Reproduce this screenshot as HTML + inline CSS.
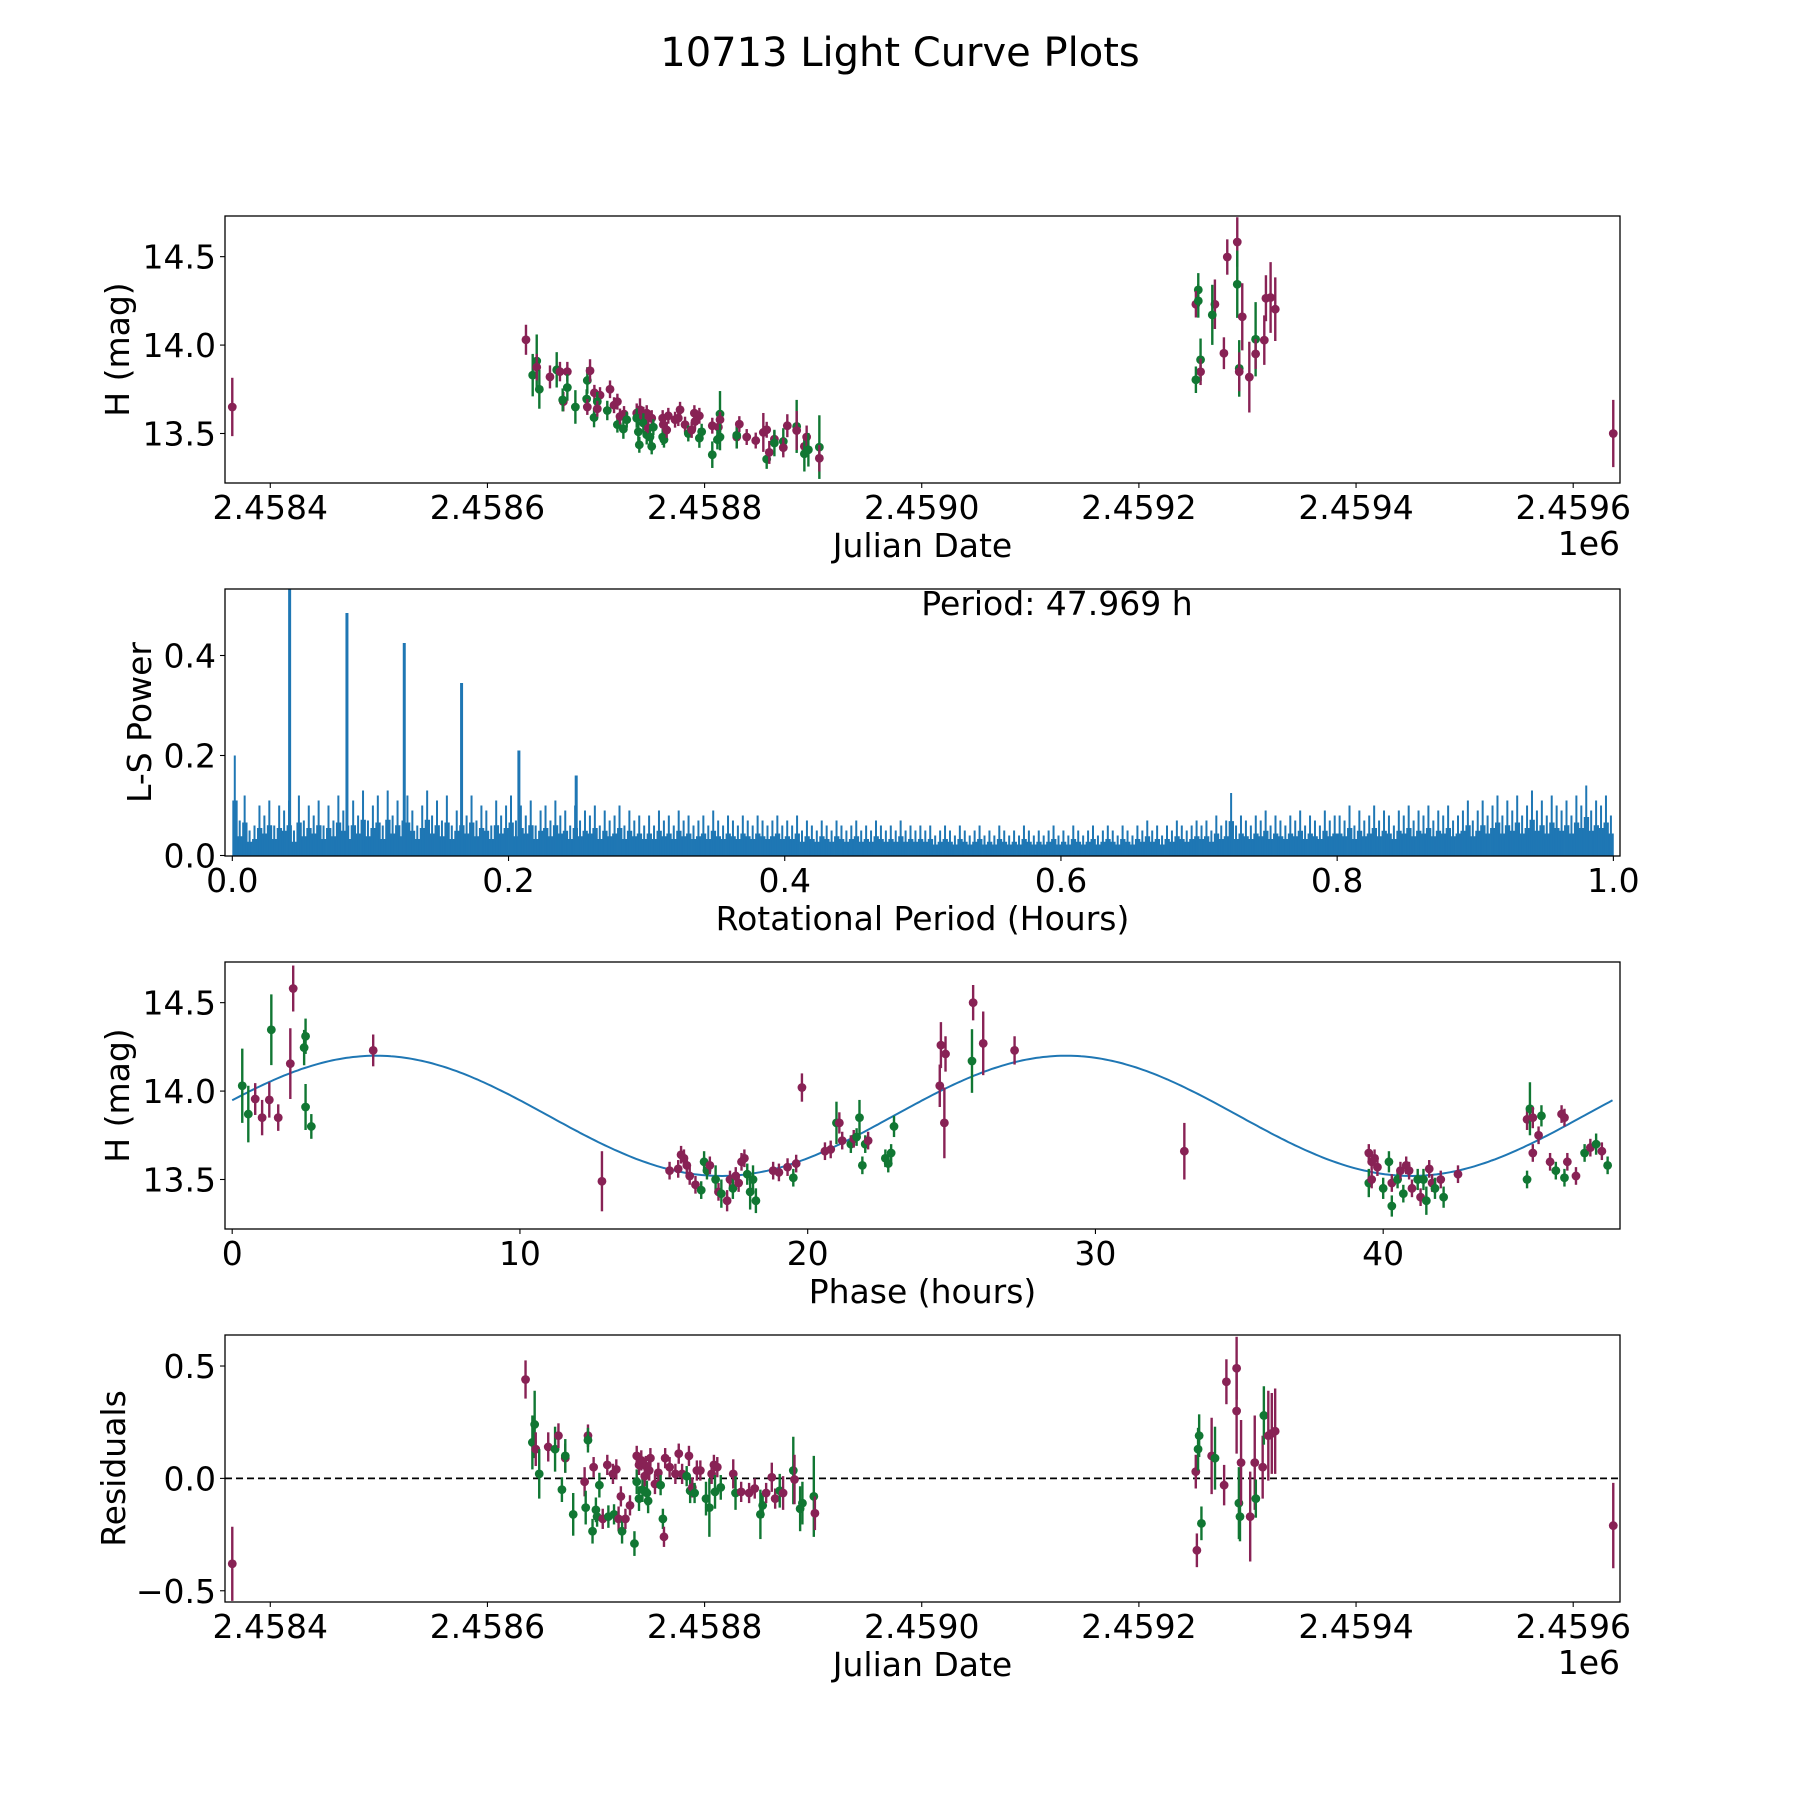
<!DOCTYPE html>
<html><head><meta charset="utf-8">
<style>
html,body{margin:0;padding:0;background:#fff;}
svg{display:block;font-family:"DejaVu Sans","Liberation Sans",sans-serif;}
</style></head>
<body>
<svg id="fig" width="1800" height="1800" viewBox="0 0 1800 1800" xmlns="http://www.w3.org/2000/svg">
<rect width="1800" height="1800" fill="#fff"/>
<text x="900" y="66" font-size="40" text-anchor="middle">10713 Light Curve Plots</text>
</svg>
<script>
// ---------- Panel 1: Light curve (JD - 2458000, H mag) ----------
const jd1 = [365.0,635.5,641.7,645.4,645.4,647.8,657.6,663.8,666.8,673.6,673.6,669.9,669.3,681.0,692.0,694.5,691.4,692.0,698.2,698.5,703.7,701.2,701.2,710.4,712.9,716.6,719.7,719.7,722.1,725.2,725.8,728.3,737.5,740.5,737.5,739.0,739.9,743.6,746.7,743.6,746.7,748.2,751.3,749.7,751.3,752.8,761.4,762.0,761.4,762.6,765.1,766.6,772.8,777.4,775.8,782.0,785.0,788.1,790.6,795.2,795.2,797.3,791.2,807.1,807.1,814.2,814.2,812.7,814.2,811.8,829.6,829.6,832.0,838.8,847.1,854.1,857.2,857.2,859.6,864.3,864.3,872.5,872.5,876.2,884.8,884.8,891.9,891.9,894.0,895.6,905.7,905.7,
1254.7,1252.5,1254.7,1256.8,1256.8,1252.5,1270.0,1267.6,1281.4,1278.3,1290.6,1290.6,1295.2,1292.4,1292.4,1301.7,1307.5,1307.5,1315.5,1317.0,1321.3,1325.6,1636.9];
const mag1 = [13.65,14.03,13.83,13.91,13.875,13.75,13.82,13.86,13.85,13.85,13.76,13.68,13.69,13.65,13.80,13.855,13.695,13.65,13.59,13.73,13.717,13.68,13.64,13.63,13.75,13.66,13.68,13.55,13.596,13.525,13.61,13.578,13.615,13.634,13.587,13.51,13.436,13.596,13.615,13.559,13.493,13.53,13.587,13.48,13.427,13.536,13.587,13.55,13.48,13.465,13.52,13.60,13.578,13.634,13.587,13.55,13.50,13.52,13.615,13.60,13.474,13.51,13.568,13.38,13.544,13.61,13.578,13.536,13.48,13.465,13.48,13.49,13.553,13.48,13.46,13.506,13.521,13.355,13.393,13.468,13.446,13.455,13.42,13.544,13.54,13.517,13.427,13.385,13.48,13.408,13.423,13.36,
14.312,14.231,14.25,13.917,13.849,13.804,14.231,14.171,14.498,13.954,14.583,14.344,14.16,13.868,13.849,13.819,14.033,13.95,14.028,14.265,14.269,14.203,13.50];
const err1 = [0.165,0.085,0.12,0.15,0.075,0.11,0.065,0.10,0.055,0.055,0.075,0.055,0.065,0.095,0.075,0.065,0.055,0.045,0.055,0.045,0.045,0.055,0.045,0.055,0.05,0.045,0.045,0.045,0.045,0.055,0.045,0.045,0.055,0.065,0.055,0.055,0.045,0.055,0.045,0.055,0.055,0.045,0.045,0.045,0.045,0.045,0.045,0.045,0.045,0.045,0.045,0.045,0.045,0.045,0.045,0.045,0.045,0.045,0.045,0.045,0.055,0.045,0.045,0.075,0.045,0.13,0.045,0.045,0.075,0.055,0.065,0.075,0.045,0.045,0.045,0.11,0.045,0.055,0.065,0.045,0.075,0.075,0.055,0.065,0.15,0.11,0.055,0.10,0.065,0.095,0.18,0.075,
0.095,0.075,0.095,0.12,0.075,0.075,0.14,0.17,0.10,0.09,0.14,0.19,0.19,0.16,0.11,0.20,0.21,0.085,0.14,0.13,0.20,0.18,0.19];
const col1 = "m" + "mggmgmgmmg" + "mgggmgmgmm" + "gmgmmmgmgm" + "gmmgggmmgg" + "mmgggmmggm" + "mmmmmgmmmg" + "gmgmgmmggm" + "gmmmmmgmmg" + "gmmgmmgmgg" + "m" +
  "gmggmgmgmmmgmgmmgmmmmm" + "m";

// ---------- Panel 2: Lomb-Scargle periodogram ----------
const lsPowers = [.20,.07,.12,.05,.06,.10,.08,.11,.06,.10,.09,.11,.05,.12,.07,.10,.08,.11,.06,.10,.07,.12,.09,.06,.11,.08,.13,.07,
.10,.12,.06,.13,.08,.11,.07,.12,.09,.06,.10,.13,.08,.11,.07,.12,.06,.09,.11,.08,.12,.07,.10,.09,.06,.11,.08,.10,
.12,.07,.10,.08,.11,.06,.09,.10,.07,.11,.08,.09,.06,.10,.07,.09,.08,.10,.06,.09,.07,.08,.10,.06,.09,.07,.08,.06,
.08,.06,.09,.07,.08,.06,.09,.07,.08,.06,.07,.08,.06,.09,.07,.06,.08,.07,.06,.08,.07,.06,.08,.07,.06,.07,.08,.06,
.07,.06,.08,.05,.07,.06,.05,.07,.06,.05,.07,.06,.05,.06,.07,.05,.06,.05,.07,.06,.05,.06,.05,.07,.05,.06,.05,.06,
.05,.06,.04,.05,.06,.05,.04,.06,.05,.04,.05,.06,.04,.05,.04,.06,.05,.04,.05,.04,.06,.05,.04,.05,.04,.05,.06,.04,
.05,.04,.06,.05,.04,.05,.06,.04,.05,.06,.05,.04,.06,.05,.04,.06,.05,.07,.05,.06,.04,.06,.05,.07,.06,.05,.06,.07,
.06,.07,.05,.08,.06,.07,.125,.06,.08,.07,.06,.08,.07,.09,.06,.08,.07,.06,.08,.07,.09,.06,.08,.07,.06,.09,.07,.08,
.08,.07,.10,.06,.09,.07,.08,.10,.07,.09,.08,.06,.09,.08,.10,.07,.09,.08,.10,.07,.09,.08,.10,.07,.08,.09,.11,.07,
.09,.11,.08,.10,.12,.08,.11,.09,.12,.08,.10,.13,.09,.11,.08,.12,.10,.09,.11,.08,.12,.10,.14,.09,.11,.10,.12,.08];
const peakPeriods = [0.0415,0.083,0.1245,0.166,0.2075,0.249];
const peakPowers = [0.56,0.485,0.425,0.345,0.21,0.16];
const periodLabel = "Period: 47.969 h";

// ---------- Panel 3: Phase-folded curve ----------
const phase3 = [0.35,0.56,0.8,1.04,1.29,1.36,1.6,2.02,2.12,2.5,2.55,2.55,2.75,4.9,12.85,
15.2,15.5,15.6,15.7,15.8,15.9,16.1,16.3,16.4,16.5,16.6,16.8,16.9,17.0,17.2,17.3,17.4,17.5,17.6,17.7,17.8,17.9,18.0,18.1,18.2,18.8,19.0,19.3,19.6,19.5,19.8,20.6,20.8,21.0,21.1,21.2,21.5,21.6,21.7,21.8,21.9,22.0,22.1,22.7,22.8,22.9,23.0,
24.59,24.63,24.79,24.75,25.75,25.71,26.1,27.19,33.09,
39.5,39.6,39.5,39.6,39.7,39.8,40.0,40.2,40.3,40.3,40.5,40.6,40.7,40.8,40.9,41.0,41.2,41.3,41.4,41.5,41.6,41.7,41.8,42.0,42.1,42.6,
45.0,45.0,45.1,45.2,45.2,45.4,45.5,45.8,46.0,46.2,46.3,46.3,46.4,46.7,47.0,47.2,47.4,47.6,47.8];
const mag3 = [14.03,13.87,13.955,13.85,13.95,14.347,13.85,14.155,14.58,14.246,14.31,13.91,13.8,14.23,13.49,
13.55,13.56,13.64,13.62,13.58,13.52,13.47,13.44,13.6,13.55,13.58,13.5,13.43,13.42,13.38,13.5,13.45,13.52,13.48,13.6,13.62,13.53,13.43,13.5,13.38,13.55,13.54,13.57,13.59,13.51,14.02,13.66,13.67,13.82,13.82,13.72,13.7,13.73,13.74,13.85,13.58,13.7,13.72,13.62,13.59,13.65,13.8,
14.03,14.26,14.21,13.82,14.5,14.17,14.27,14.23,13.66,
13.65,13.6,13.48,13.5,13.62,13.57,13.45,13.6,13.48,13.35,13.5,13.55,13.42,13.58,13.55,13.45,13.5,13.4,13.5,13.38,13.56,13.48,13.45,13.5,13.4,13.53,
13.5,13.84,13.9,13.85,13.65,13.75,13.86,13.6,13.55,13.87,13.85,13.51,13.6,13.52,13.65,13.68,13.7,13.66,13.58];
const err3 = [0.21,0.16,0.09,0.1,0.1,0.2,0.075,0.2,0.13,0.1,0.1,0.13,0.07,0.09,0.17,
0.05,0.05,0.05,0.05,0.05,0.05,0.05,0.05,0.06,0.05,0.05,0.08,0.05,0.08,0.06,0.05,0.06,0.05,0.05,0.05,0.05,0.06,0.1,0.08,0.07,0.05,0.05,0.05,0.05,0.05,0.08,0.05,0.05,0.12,0.06,0.05,0.05,0.05,0.05,0.1,0.05,0.05,0.05,0.05,0.05,0.05,0.06,
0.12,0.13,0.1,0.2,0.1,0.18,0.18,0.08,0.16,
0.05,0.05,0.08,0.05,0.05,0.05,0.06,0.06,0.05,0.06,0.05,0.05,0.05,0.05,0.05,0.05,0.06,0.05,0.06,0.08,0.05,0.05,0.06,0.05,0.06,0.05,
0.05,0.06,0.15,0.06,0.05,0.05,0.06,0.05,0.05,0.05,0.05,0.05,0.05,0.05,0.05,0.05,0.06,0.05,0.05];
const col3 = "ggmmmgmmmggggmm" +
  "mmmmmmmggg" + "mgmgmmgmmm" + "mggggmmmmg" + "mmmgmmgmgg" + "ggmgggg" +
  "mmmmmgmmm" +
  "mmgmmmggmggmgmmmgmggmmgmgm" +
  "gmgmmmgmgmmgmmgmgmg";
const fitMean = [13.86];
const fitAmp = [0.34];
const fitPeakPhase = [5.0];
const fitPeriod = [23.9845];
const fitRange = [0, 47.969];

// ---------- Panel 4: Residuals ----------
const jd4 = [365.0,635.1,641.4,643.5,644.5,647.7,656.0,662.3,665.4,668.6,671.7,671.7,679.0,689.5,690.5,692.6,692.6,696.8,697.8,699.9,701.0,703.1,706.2,710.4,711.4,715.6,716.6,718.7,720.8,722.9,724.0,727.1,731.3,735.4,737.5,737.5,739.6,739.6,741.7,742.8,744.9,745.9,746.9,748.0,749.0,750.1,754.3,757.4,759.5,761.6,762.6,763.7,767.8,773.1,776.2,779.3,783.5,785.6,786.7,788.7,790.8,792.9,796.1,801.3,804.4,806.5,808.6,809.6,811.7,814.9,826.4,828.5,833.7,841.0,846.2,851.4,853.5,856.7,861.9,865.0,869.2,872.3,881.7,882.8,888.0,890.1,900.6,901.6,
1252.4,1253.4,1254.5,1255.5,1257.6,1267.0,1270.1,1278.5,1280.6,1290.0,1290.0,1292.1,1293.1,1294.1,1302.5,1306.7,1307.7,1314.0,1315.1,1319.2,1322.4,1325.5,1636.9];
const res4 = [-0.38,0.44,0.16,0.24,0.13,0.02,0.14,0.13,0.19,-0.05,0.09,0.10,-0.16,-0.015,-0.13,0.19,0.17,-0.235,0.05,-0.14,-0.17,-0.03,-0.18,0.06,-0.17,0.02,-0.16,0.04,-0.18,-0.08,-0.235,-0.18,-0.12,-0.29,-0.015,0.10,0.06,-0.09,0.08,-0.05,0.01,0.055,-0.065,-0.10,0.035,0.09,-0.025,0.025,-0.03,-0.18,-0.26,0.09,0.05,0.02,0.11,0.02,0.01,0.10,-0.055,-0.04,-0.065,0.035,0.035,-0.09,-0.13,0.02,0.06,-0.06,0.05,-0.04,0.02,-0.065,-0.06,-0.065,-0.045,-0.16,-0.12,-0.065,0.005,-0.09,-0.055,-0.065,0.035,-0.005,-0.135,-0.11,-0.08,-0.155,
0.03,-0.32,0.13,0.19,-0.20,0.10,0.09,-0.03,0.43,0.49,0.30,-0.11,-0.17,0.07,-0.17,0.07,-0.09,0.05,0.28,0.19,0.20,0.21,-0.21];
const err4 = [0.165,0.085,0.12,0.15,0.075,0.11,0.065,0.10,0.055,0.055,0.065,0.075,0.095,0.065,0.075,0.05,0.055,0.055,0.045,0.055,0.045,0.055,0.045,0.045,0.05,0.045,0.045,0.045,0.055,0.045,0.055,0.045,0.045,0.055,0.055,0.045,0.045,0.055,0.045,0.055,0.045,0.045,0.055,0.055,0.045,0.045,0.045,0.045,0.045,0.045,0.045,0.045,0.045,0.045,0.045,0.045,0.045,0.045,0.055,0.045,0.045,0.045,0.045,0.075,0.13,0.045,0.045,0.075,0.045,0.055,0.065,0.075,0.045,0.045,0.045,0.11,0.055,0.045,0.065,0.045,0.075,0.075,0.15,0.11,0.10,0.095,0.18,0.075,
0.075,0.075,0.095,0.095,0.075,0.17,0.14,0.09,0.10,0.14,0.19,0.16,0.11,0.19,0.20,0.21,0.085,0.14,0.13,0.20,0.18,0.19,0.19];
const col4 = "m" + "mggmgmgmgm" + "ggmgmggmgg" + "gmmgmgmmmg" + "mmggmmgmgm" + "mggmmmmggm" + "mmmmmgmgmg" + "mmggmmgmgm" + "gmmmggmmmg" + "mgmgggmm" +
  "mgggmgmmmmggmmmgmgmmmm" + "m";

// ---------- drawing ----------
const svg = document.getElementById('fig');
const NS = 'http://www.w3.org/2000/svg';
const PURPLE = '#882255', GREEN = '#117733', BLUE = '#1f77b4';
const L = 225, R = 1620, H = 267;
const TOPS = [216, 589, 962, 1335];
const FS = 33;

function mk(tag, attrs, parent){
  const e = document.createElementNS(NS, tag);
  for (const k in attrs) e.setAttribute(k, attrs[k]);
  (parent || svg).appendChild(e);
  return e;
}
function lin(d0, d1, p0, p1){ return v => p0 + (v - d0) * (p1 - p0) / (d1 - d0); }

function makeAxes(idx, xlim, ylim, name){
  const top = TOPS[idx], bot = top + H;
  const g = mk('g', {});
  
  
  const clipId = 'clip' + idx;
  const cp = mk('clipPath', {id: clipId}, g);
  mk('rect', {x: L, y: top, width: R - L, height: H}, cp);
  const plot = mk('g', {'clip-path': 'url(#' + clipId + ')'}, g);
  
  
  return {g, plot, top, bot, x: lin(xlim[0], xlim[1], L, R), y: lin(ylim[0], ylim[1], bot, top)};
}
function frame(ax){
  const f = mk('rect', {x: L, y: ax.top, width: R - L, height: H, fill: 'none', stroke: '#000', 'stroke-width': 1.3}, ax.g);
  
  
}
function xTicks(ax, vals, labels, name){
  vals.forEach((v, i) => {
    const px = ax.x(v);
    mk('line', {x1: px, x2: px, y1: ax.bot, y2: ax.bot + 5, stroke: '#000', 'stroke-width': 1.1}, ax.g);
    const t = mk('text', {x: px, y: ax.bot + 36, 'font-size': FS, 'text-anchor': 'middle'}, ax.g);
    
    
    t.textContent = labels[i];
  });
}
function yTicks(ax, vals, labels, name){
  vals.forEach((v, i) => {
    const py = ax.y(v);
    mk('line', {x1: L - 5, x2: L, y1: py, y2: py, stroke: '#000', 'stroke-width': 1.1}, ax.g);
    const t = mk('text', {x: L - 9, y: py + 12, 'font-size': FS, 'text-anchor': 'end'}, ax.g);
    
    
    t.textContent = labels[i];
  });
}
function xLabel(ax, text, name){
  const t = mk('text', {x: (L + R) / 2, y: ax.bot + 74, 'font-size': FS, 'text-anchor': 'middle'}, ax.g);
  
  
  t.textContent = text;
}
function yLabel(ax, text, name, xc){
  const cy = ax.top + H / 2;
  const t = mk('text', {x: xc, y: cy, 'font-size': FS, 'text-anchor': 'middle', transform: 'rotate(-90 ' + xc + ' ' + cy + ')'}, ax.g);
  
  
  t.textContent = text;
}
function offsetLabel(ax){
  const t = mk('text', {x: R, y: ax.bot + 72, 'font-size': FS, 'text-anchor': 'end'}, ax.g);
  
  
  t.textContent = '1e6';
}
function errPoints(ax, xs, ys, es, cols, name){
  for (let i = 0; i < xs.length; i++){
    const c = cols[i] === 'g' ? GREEN : PURPLE;
    const px = ax.x(xs[i]), py = ax.y(ys[i]);
    const grp = mk('g', {}, ax.plot);
    
    
    mk('line', {x1: px, x2: px, y1: ax.y(ys[i] - es[i]), y2: ax.y(ys[i] + es[i]), stroke: c, 'stroke-width': 2.4}, grp);
    mk('circle', {cx: px, cy: py, r: 4.4, fill: c}, grp);
  }
}

const jdTicks = [400, 600, 800, 1000, 1200, 1400, 1600];
const jdTickLabels = ['2.4584', '2.4586', '2.4588', '2.4590', '2.4592', '2.4594', '2.4596'];

// Panel 1
const ax1 = makeAxes(0, [358.3, 1643.1], [13.22, 14.73], 'light-curve-panel');
errPoints(ax1, jd1, mag1, err1, col1, 'light-curve-point');
frame(ax1);
xTicks(ax1, jdTicks, jdTickLabels, 'julian-date');
yTicks(ax1, [13.5, 14.0, 14.5], ['13.5', '14.0', '14.5'], 'h-mag');
xLabel(ax1, 'Julian Date', 'x-axis-title-julian-date');
yLabel(ax1, 'H (mag)', 'y-axis-title-h-mag', 129);
offsetLabel(ax1);

// Panel 2
const ax2 = makeAxes(1, [-0.0053, 1.0048], [-0.001, 0.533], 'periodogram-panel');
const nb = lsPowers.length;
for (let i = 0; i < nb; i++){
  const x0 = ax2.x(i / nb), x1 = ax2.x((i + 1) / nb);
  const base = lsPowers[i] * 0.55;
  const r = mk('rect', {x: x0, y: ax2.y(base), width: (x1 - x0) + 0.4, height: ax2.y(0) - ax2.y(base), fill: BLUE}, ax2.plot);
  
  
  const sx = (x0 + x1) / 2;
  const s = mk('line', {x1: sx, x2: sx, y1: ax2.y(0), y2: ax2.y(lsPowers[i]), stroke: BLUE, 'stroke-width': 2}, ax2.plot);
  
  
}
for (let i = 0; i < peakPeriods.length; i++){
  const px = ax2.x(peakPeriods[i]);
  const l = mk('line', {x1: px, x2: px, y1: ax2.y(0), y2: ax2.y(peakPowers[i]), stroke: BLUE, 'stroke-width': 3}, ax2.plot);
  
  
}
frame(ax2);
const pl = mk('text', {x: 1057, y: 615, 'font-size': FS, 'text-anchor': 'middle'}, ax2.g);


pl.textContent = periodLabel;
xTicks(ax2, [0, 0.2, 0.4, 0.6, 0.8, 1.0], ['0.0', '0.2', '0.4', '0.6', '0.8', '1.0'], 'period');
yTicks(ax2, [0, 0.2, 0.4], ['0.0', '0.2', '0.4'], 'power');
xLabel(ax2, 'Rotational Period (Hours)', 'x-axis-title-rotational-period');
yLabel(ax2, 'L-S Power', 'y-axis-title-ls-power', 151);

// Panel 3
const ax3 = makeAxes(2, [-0.25, 48.23], [13.22, 14.73], 'phase-panel');
let d = '';
const nFit = 400;
for (let i = 0; i <= nFit; i++){
  const ph = fitRange[0] + (fitRange[1] - fitRange[0]) * i / nFit;
  const m = fitMean[0] + fitAmp[0] * Math.cos(2 * Math.PI * (ph - fitPeakPhase[0]) / fitPeriod[0]);
  d += (i ? 'L' : 'M') + ax3.x(ph).toFixed(1) + ',' + ax3.y(m).toFixed(1);
}
const fit = mk('path', {d: d, fill: 'none', stroke: BLUE, 'stroke-width': 2}, ax3.plot);


errPoints(ax3, phase3, mag3, err3, col3, 'phase-point');
frame(ax3);
xTicks(ax3, [0, 10, 20, 30, 40], ['0', '10', '20', '30', '40'], 'phase');
yTicks(ax3, [13.5, 14.0, 14.5], ['13.5', '14.0', '14.5'], 'h-mag');
xLabel(ax3, 'Phase (hours)', 'x-axis-title-phase');
yLabel(ax3, 'H (mag)', 'y-axis-title-h-mag', 129);

// Panel 4
const ax4 = makeAxes(3, [358.3, 1643.1], [-0.55, 0.638], 'residuals-panel');
const zl = mk('line', {x1: L, x2: R, y1: ax4.y(0), y2: ax4.y(0), stroke: '#000', 'stroke-width': 1.8, 'stroke-dasharray': '7,4'}, ax4.plot);


errPoints(ax4, jd4, res4, err4, col4, 'residual-point');
frame(ax4);
xTicks(ax4, jdTicks, jdTickLabels, 'julian-date');
yTicks(ax4, [-0.5, 0, 0.5], ['\u22120.5', '0.0', '0.5'], 'residual');
xLabel(ax4, 'Julian Date', 'x-axis-title-julian-date-residuals');
yLabel(ax4, 'Residuals', 'y-axis-title-residuals', 125);
offsetLabel(ax4);
</script>
</body></html>
